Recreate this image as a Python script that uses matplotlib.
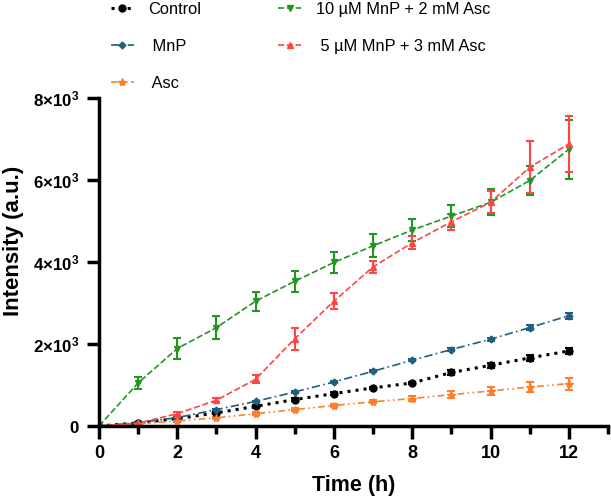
import matplotlib.pyplot as plt

plt.rcParams['font.family'] = ['Liberation Sans', 'DejaVu Sans']
plt.rcParams['mathtext.fontset'] = 'custom'
plt.rcParams['mathtext.rm'] = 'Liberation Sans'
plt.rcParams['mathtext.bf'] = 'Liberation Sans:bold'

# === data ===
time_h = [0, 1, 2, 3, 4, 5, 6, 7, 8, 9, 10, 11, 12]

control = [0, 75, 180, 320, 480, 645, 790, 930, 1050, 1305, 1480, 1660, 1830]
control_err = [0, 20, 20, 25, 40, 30, 30, 30, 30, 50, 60, 70, 70]

mnp = [0, 80, 205, 400, 600, 830, 1075, 1335, 1605, 1865, 2117, 2400, 2690]
mnp_err = [0, 15, 15, 20, 20, 20, 25, 25, 30, 30, 40, 60, 70]

asc = [0, 55, 125, 200, 300, 400, 500, 590, 670, 765, 855, 950, 1035]
asc_err = [0, 15, 20, 25, 30, 30, 35, 40, 70, 80, 100, 120, 145]

mnp10_asc2 = [0, 1050, 1890, 2400, 3045, 3530, 3990, 4395, 4780, 5120, 5455, 5985, 6750]
mnp10_asc2_err = [0, 150, 250, 285, 235, 260, 265, 277, 270, 270, 317, 354, 720]

mnp5_asc3 = [0, 70, 300, 630, 1140, 2130, 3045, 3880, 4470, 4980, 5455, 6310, 6880]
mnp5_asc3_err = [0, 30, 40, 50, 100, 270, 190, 145, 160, 195, 270, 630, 690]

y_ticks = [0, 2000, 4000, 6000, 8000]
y_tick_labels = [r"$\mathbf{0}$", r"$\mathbf{2{\times}10^3}$", r"$\mathbf{4{\times}10^3}$",
                 r"$\mathbf{6{\times}10^3}$", r"$\mathbf{8{\times}10^3}$"]
x_ticks = [0, 2, 4, 6, 8, 10, 12]

# === plot ===
fig = plt.figure(figsize=(6.11, 4.98), dpi=100)
ax = fig.add_axes([99 / 611, 1 - 426 / 498, 509 / 611, 328 / 498])

series = [
    (control, control_err, "Control", "black", ":", "o", 5, 2.2),
    (mnp, mnp_err, " MnP", "#1f5f7f", (0, (5, 2, 1, 2)), "D", 3.5, 1.2),
    (asc, asc_err, " Asc", "#ff7f2a", (0, (4, 2, 1, 2, 1, 2)), "*", 6, 1.2),
    (mnp10_asc2, mnp10_asc2_err, "10 µM MnP + 2 mM Asc", "#229522", "--", "v", 4.5, 1.2),
    (mnp5_asc3, mnp5_asc3_err, " 5 µM MnP + 3 mM Asc", "#ff4545", "--", "^", 4.5, 1.2),
]

handles = []
labels = []
for vals, err, label, color, ls, mk, ms, lw in series:
    h = ax.errorbar(time_h, vals, yerr=err, color=color,
                    linestyle=ls, linewidth=lw, marker=mk, markersize=ms,
                    capsize=3, elinewidth=1.5, capthick=1.5)
    handles.append(h[0])
    labels.append(label)

ax.set_xlim(0, 13)
ax.set_ylim(0, 8000)
ax.set_xticks(x_ticks)
ax.set_xticks(range(0, 14), minor=True)
ax.set_yticks(y_ticks)
ax.set_yticklabels(y_tick_labels)

for side in ["top", "right"]:
    ax.spines[side].set_visible(False)
for side in ["left", "bottom"]:
    ax.spines[side].set_linewidth(2.5)

ax.tick_params(which="major", length=9, width=2.5, pad=5)
ax.tick_params(which="minor", length=6, width=2.5)
ax.tick_params(axis="x", labelsize=13)
ax.tick_params(axis="y", labelsize=12.2)
for lab in ax.get_xticklabels():
    lab.set_fontweight("bold")

ax.set_xlabel("Time (h)", fontsize=15.5, fontweight="bold", labelpad=9)
ax.set_ylabel("Intensity (a.u.)", fontsize=16, fontweight="bold")
ax.yaxis.set_label_coords(-0.147, 0.564)

fig.legend(handles, labels, loc="upper left", bbox_to_anchor=(104 / 611, 1.01),
           ncol=2, frameon=False, fontsize=11.8, handlelength=1.4,
           handletextpad=0.9, columnspacing=4.7, labelspacing=1.35,
           borderaxespad=0)

plt.savefig("out.png", dpi=100)
